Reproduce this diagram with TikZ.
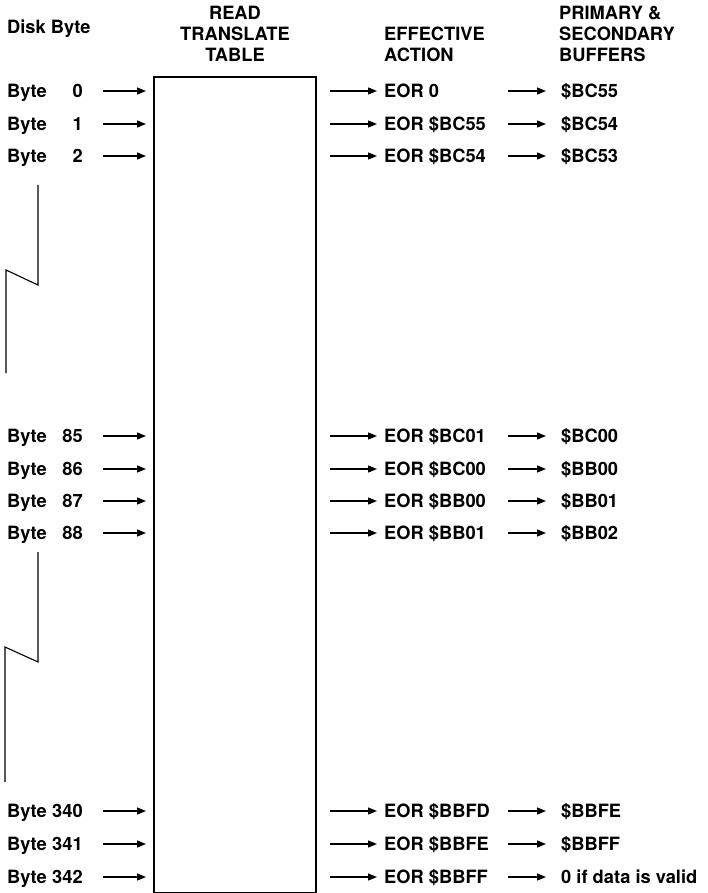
\documentclass[tikz,border=0pt]{standalone}
\usepackage{fontspec}
\setmainfont{TeX Gyre Heros}
\usetikzlibrary{arrows.meta}
\begin{document}
\begin{tikzpicture}[x=1pt,y=-1pt,
  txt/.style={inner sep=0pt,font=\bfseries\fontsize{18.3}{21}\selectfont},
  hdr/.style={txt,align=left},
  arr/.style={line width=1.3pt,-{Triangle[length=9pt,width=7pt]}},
  brk/.style={line width=1.1pt}]
\useasboundingbox (0,0) rectangle (708,893);
% headers
\node[txt,anchor=base west] (hdisk) at (7,33.5) {Disk Byte};
\node[hdr,align=center,anchor=north] (hread) at (235,6) {READ\\TRANSLATE\\TABLE};
\node[hdr,anchor=north west] (heff) at (384,27) {EFFECTIVE\\ACTION};
\node[hdr,anchor=north west] (hbuf) at (559,6) {PRIMARY \&\\SECONDARY\\BUFFERS};
% table box
\node[draw,line width=1.8pt,inner sep=0pt,minimum width=162pt,minimum height=816pt,anchor=north west] (box) at (153,76) {};
% rows
\foreach \n/\y/\num/\eor/\buf in {
  r0/91/0/EOR 0/\$BC55,
  r1/124/1/EOR \$BC55/\$BC54,
  r2/156/2/EOR \$BC54/\$BC53,
  r85/436/85/EOR \$BC01/\$BC00,
  r86/469/86/EOR \$BC00/\$BB00,
  r87/501/87/EOR \$BB00/\$BB01,
  r88/533/88/EOR \$BB01/\$BB02,
  r340/811/340/EOR \$BBFD/\$BBFE,
  r341/844/341/EOR \$BBFE/\$BBFF,
  r342/877/342/EOR \$BBFF/0 if data is valid} {
  \node[txt,anchor=base west] (\n lab) at (7,\y+6.6) {Byte\hspace{5pt}\makebox[31pt][r]{\num}};
  \coordinate (\n a) at (103,\y);
  \coordinate (\n b) at (146,\y);
  \draw[arr] (\n a) -- (\n b);
  \coordinate (\n c) at (330,\y);
  \node[txt,anchor=base west] (\n eor) at (384,\y+6.6) {\eor};
  \draw[arr] (\n c) -- (\n c -| 377,0);
  \coordinate (\n d) at (508,\y);
  \coordinate (\n e) at (546,\y);
  \draw[arr] (\n d) -- (\n e);
  \node[txt,anchor=base west] (\n buf) at (561,\y+6.6) {\buf};
}
% break marks
\draw[brk] (38,185) -- (38,285) -- (6,270) -- (6,373);
\draw[brk] (38,552) -- (38,662) -- (5,647) -- (5,782);
\end{tikzpicture}
\end{document}
